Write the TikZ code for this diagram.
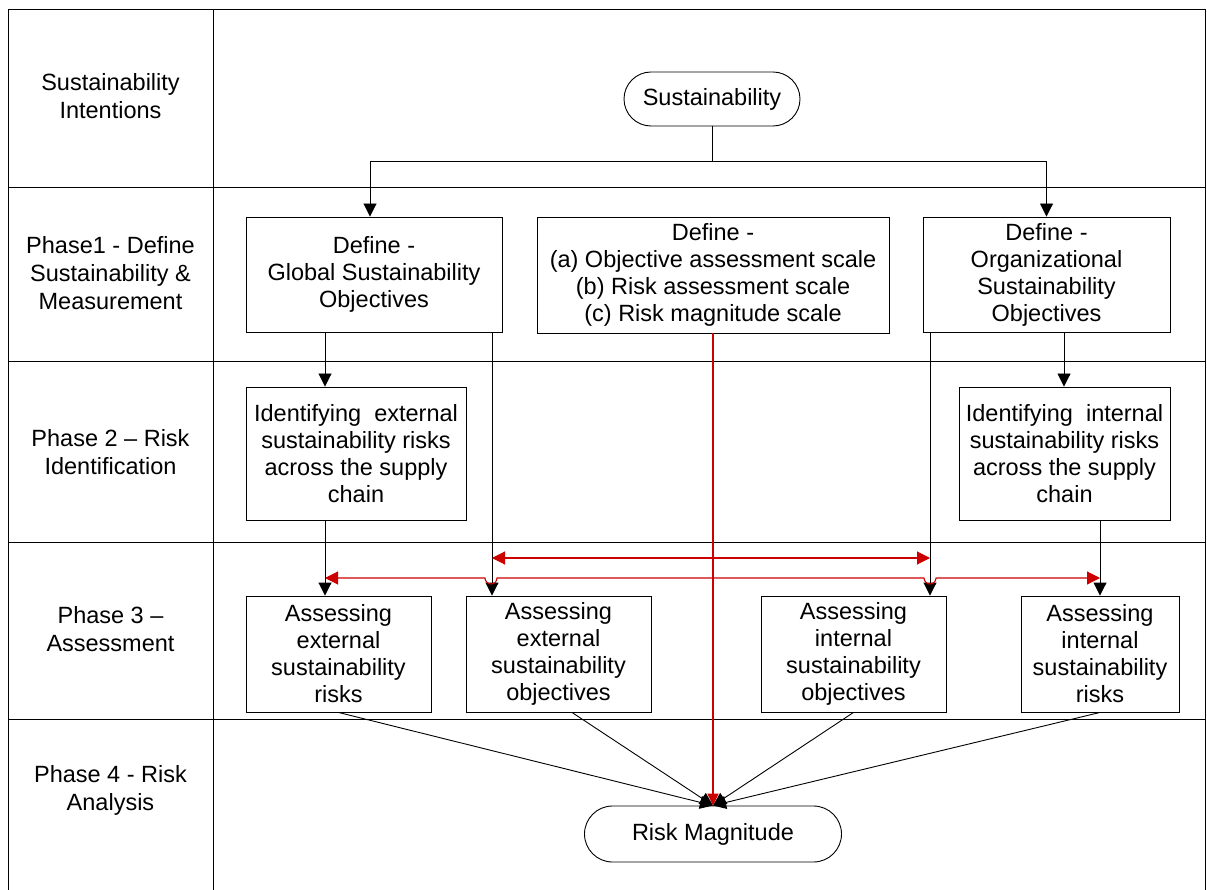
\documentclass[tikz,border=0pt]{standalone}
\usepackage{fontspec}
\setmainfont{Liberation Sans}
\usetikzlibrary{arrows.meta}
\definecolor{redc}{RGB}{205,0,0}
\begin{document}
\begin{tikzpicture}[x=1pt,y=-1pt,
  box/.style={draw, line width=0.9pt, align=center, inner sep=0pt, font=\fontsize{23.5}{27}\selectfont},
  lbl/.style={align=center, inner sep=0pt, font=\fontsize{23.5}{28}\selectfont},
  pill/.style={draw, line width=0.9pt, align=center, inner sep=0pt, font=\fontsize{23.5}{27}\selectfont},
  frame/.style={line width=1pt},
  arr/.style={line width=0.9pt, -{Triangle[length=13pt,width=13pt]}},
  rarr/.style={draw=redc, line width=1.1pt, -{Triangle[length=13pt,width=13pt]}, color=redc},
  rvert/.style={draw=redc, line width=1.6pt, -{Triangle[length=12pt,width=11pt]}, color=redc},
  line/.style={line width=0.9pt}]
\useasboundingbox (0,0) rectangle (1207,890);

% frame
\draw[frame] (8,896) -- (8,10) -- (1205,10) -- (1205,896);
\draw[frame] (213,10) -- (213,896);
\foreach \yy in {188,362,542,719} \draw[frame] (8,\yy) -- (1205,\yy);

% row labels
\node[lbl] (l1) at (110.5,96) {Sustainability\\Intentions};
\node[lbl] (l2) at (110.5,273) {Phase1 - Define\\Sustainability \&\\Measurement};
\node[lbl] (l3) at (110.5,452) {Phase 2 -- Risk\\Identification};
\node[lbl] (l4) at (110.5,629) {Phase 3 --\\Assessment};
\node[lbl] (l5) at (110.5,790) {Phase 4 - Risk\\Analysis};

% nodes
\node[pill, rounded corners=27pt, minimum width=176pt, minimum height=54pt] (sus) at (712,99) {Sustainability};
\node[box, minimum width=256pt, minimum height=115pt] (gso) at (374,274.5) {Define -\\Global Sustainability\\Objectives};
\node[box, minimum width=352pt, minimum height=116pt] (mid) at (713,275) {Define -\\(a) Objective assessment scale\\(b) Risk assessment scale\\(c) Risk magnitude scale};
\node[box, minimum width=247pt, minimum height=115pt] (oso) at (1046.5,274.5) {Define -\\Organizational\\Sustainability\\Objectives};
\node[box, minimum width=220pt, minimum height=133pt] (idext) at (356,453.5) {Identifying\ \ external\\sustainability risks\\across the supply\\chain};
\node[box, minimum width=211pt, minimum height=133pt] (idint) at (1064.5,453.5) {Identifying\ \ internal\\sustainability risks\\across the supply\\chain};
\node[box, minimum width=185pt, minimum height=116pt] (aer) at (338.5,654) {Assessing\\external\\sustainability\\risks};
\node[box, minimum width=185pt, minimum height=116pt] (aeo) at (558.5,654) {Assessing\\external\\sustainability\\objectives};
\node[box, minimum width=185pt, minimum height=116pt] (aio) at (853.5,654) {Assessing\\internal\\sustainability\\objectives};
\node[box, minimum width=158pt, minimum height=116pt] (air) at (1100,654) {Assessing\\internal\\sustainability\\risks};
\node[pill, rounded corners=28pt, minimum width=257pt, minimum height=56pt] (rm) at (713,834) {Risk Magnitude};

% helper x coordinates
\coordinate (x325) at (325,0);
\coordinate (x370) at (370,0);
\coordinate (x492) at (492,0);
\coordinate (x572) at (572,0);
\coordinate (x930) at (930,0);
\coordinate (x1064) at (1064,0);
\coordinate (x1100) at (1100,0);
\coordinate (hub) at (712,161);

% sustainability split
\draw[line] (sus.south) -- (hub);
\draw[arr] (hub) -| (gso.north -| x370);
\draw[arr] (hub) -| (oso.north);

% phase 1 -> 2 -> 3
\draw[arr] (gso.south -| x325) -- (idext.north -| x325);
\draw[arr] (idext.south -| x325) -- (aer.north -| x325);
\draw[arr] (gso.south -| x492) -- (aeo.north -| x492);
\draw[arr] (oso.south -| x930) -- (aio.north -| x930);
\draw[arr] (oso.south -| x1064) -- (idint.north -| x1064);
\draw[arr] (idint.south -| x1100) -- (air.north);

% converging to risk magnitude
\draw[arr] (aer.south) -- (rm.north);
\draw[arr] (aeo.south -| x572) -- (rm.north);
\draw[arr] (aio.south) -- (rm.north);
\draw[arr] (air.south) -- (rm.north);

% red connectors
\draw[rvert] (mid.south) -- (rm.north);
\coordinate (r1) at (713,558);
\coordinate (r2) at (713,578);
\draw[rarr] (r1) -- (r1 -| x492);
\draw[rarr] (r1) -- (r1 -| x930);
\draw[rarr] (r2) -- (497,578) arc[start angle=0, end angle=-180, radius=6pt] -- (r2 -| x325);
\draw[rarr] (r2) -- (924,578) arc[start angle=180, end angle=360, radius=6pt] -- (r2 -| x1100);
\end{tikzpicture}
\end{document}
